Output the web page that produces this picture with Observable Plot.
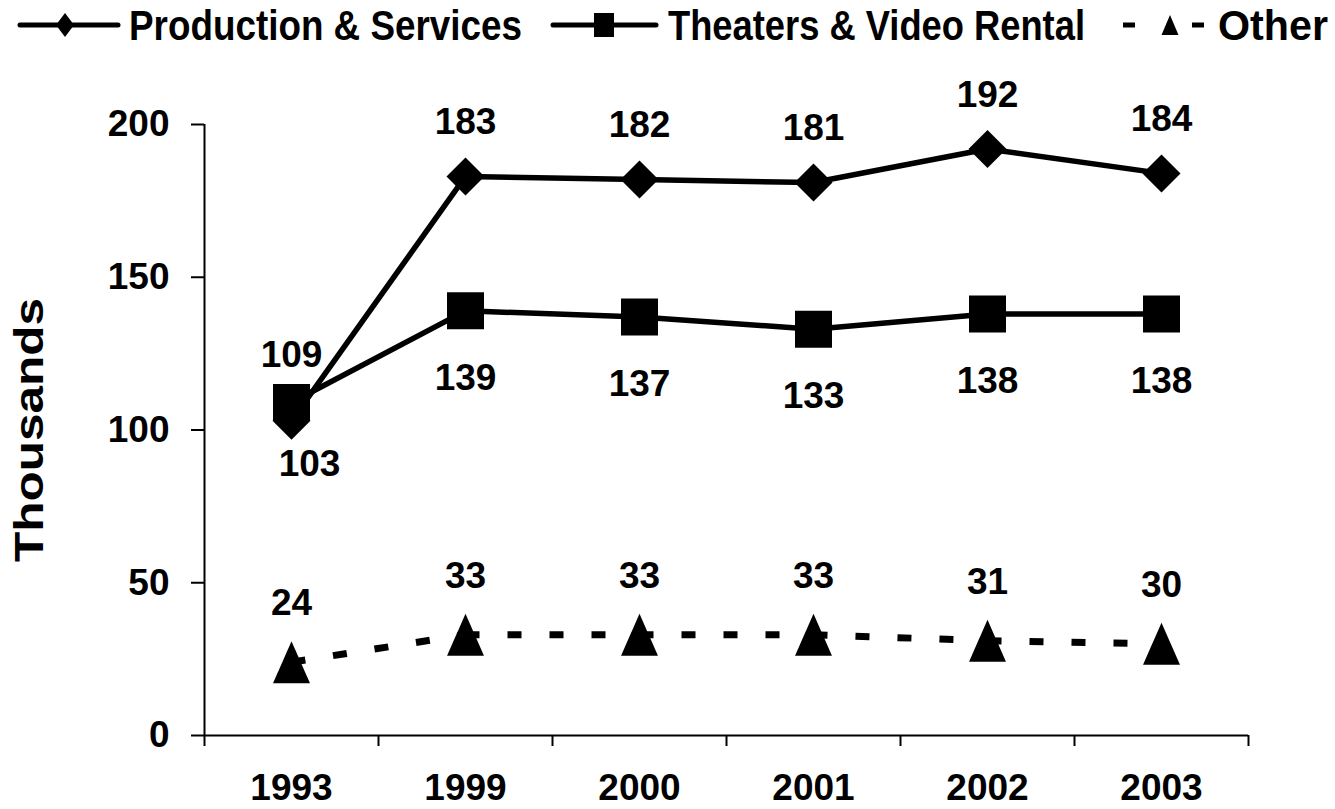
<!DOCTYPE html>
<html>
<head>
<meta charset="utf-8">
<script src="https://cdn.jsdelivr.net/npm/d3@7"></script>
<script src="https://cdn.jsdelivr.net/npm/@observablehq/plot@0.6"></script>
<style>
  html, body { margin: 0; padding: 0; background: #fff; }
  #legend, #chart { display: block; }
  text { font-family: "Liberation Sans", Arial, sans-serif; }
</style>
</head>
<body>
<svg id="legend" width="1335" height="50"></svg>
<div id="chart"></div>
<script>
// ---- Data ----
const years = ["1993", "1999", "2000", "2001", "2002", "2003"];
const production = [103, 183, 182, 181, 192, 184];
const theaters = [109, 139, 137, 133, 138, 138];
const other = [24, 33, 33, 33, 31, 30];
const seriesNames = ["Production & Services", "Theaters & Video Rental", "Other"];
const yTicks = [0, 50, 100, 150, 200];
const yLabel = "Thousands";

// ---- Custom symbols ----
const diamondSym = {draw(ctx, size) { const r = Math.sqrt(size / Math.PI); ctx.moveTo(0, -r); ctx.lineTo(r, 0); ctx.lineTo(0, r); ctx.lineTo(-r, 0); ctx.closePath(); }};
const squareSym = {draw(ctx, size) { const r = Math.sqrt(size / Math.PI); ctx.rect(-r, -r, 2 * r, 2 * r); }};
const triangleSym = {draw(ctx, size) { const r = Math.sqrt(size / Math.PI); ctx.moveTo(0, -r); ctx.lineTo(0.88 * r, r); ctx.lineTo(-0.88 * r, r); ctx.closePath(); }};

// ---- Legend ----
(function () {
  const svg = d3.select("#legend");
  const font = "Liberation Sans, Arial, sans-serif";
  const baseline = 40;
  const cy = 25;
  const fs = 43;
  // Production
  svg.append("line").attr("x1", 20).attr("x2", 118).attr("y1", cy).attr("y2", cy).attr("stroke", "#000").attr("stroke-width", 5).attr("stroke-linecap", "round");
  svg.append("path").attr("d", `M65,${cy - 12}L74,${cy}L65,${cy + 12}L56,${cy}Z`).attr("fill", "#000");
  svg.append("text").attr("x", 129).attr("y", baseline).attr("textLength", 393).attr("lengthAdjust", "spacingAndGlyphs")
    .attr("font-family", font).attr("font-weight", "bold").attr("font-size", fs).text(seriesNames[0]);
  // Theaters
  svg.append("line").attr("x1", 553).attr("x2", 656).attr("y1", cy).attr("y2", cy).attr("stroke", "#000").attr("stroke-width", 5).attr("stroke-linecap", "round");
  svg.append("rect").attr("x", 594).attr("y", cy - 12).attr("width", 20).attr("height", 24).attr("fill", "#000");
  svg.append("text").attr("x", 668).attr("y", baseline).attr("textLength", 417).attr("lengthAdjust", "spacingAndGlyphs")
    .attr("font-family", font).attr("font-weight", "bold").attr("font-size", fs).text(seriesNames[1]);
  // Other
  svg.append("line").attr("x1", 1123).attr("x2", 1135).attr("y1", cy).attr("y2", cy).attr("stroke", "#000").attr("stroke-width", 5);
  svg.append("line").attr("x1", 1192).attr("x2", 1204).attr("y1", cy).attr("y2", cy).attr("stroke", "#000").attr("stroke-width", 5);
  svg.append("path").attr("d", `M1170,${cy - 10}L1178.5,${cy + 10}L1161.5,${cy + 10}Z`).attr("fill", "#000");
  svg.append("text").attr("x", 1218).attr("y", baseline).attr("textLength", 110).attr("lengthAdjust", "spacingAndGlyphs")
    .attr("font-family", font).attr("font-weight", "bold").attr("font-size", fs).text(seriesNames[2]);
})();

// ---- Chart ----
const toRows = (vals) => vals.map((v, i) => ({i, year: years[i], value: v}));
const prodRows = toRows(production);
const theaterRows = toRows(theaters);
const otherRows = toRows(other);
const otherSegments = d3.pairs(otherRows);

const fontFamily = "Liberation Sans, Arial, sans-serif";
const labelFont = {fontSize: 37, fontWeight: "bold", fontFamily, fill: "#000"};
const bounds = d3.range(-0.5, years.length, 1);

const chart = Plot.plot({
  width: 1335,
  height: 759,
  marginLeft: 204,
  marginRight: 87,
  marginTop: 74,
  marginBottom: 74,
  style: {fontFamily, fontSize: "37px", fontWeight: "bold", color: "#000", background: "#fff"},
  x: {type: "linear", domain: [-0.5, years.length - 0.5]},
  y: {domain: [0, 200]},
  marks: [
    // axes
    Plot.axisY({ticks: yTicks, tickSize: 13, tickPadding: 22, strokeWidth: 2, label: null, fontSize: 37, fontWeight: "bold"}),
    Plot.axisX({ticks: bounds, tickSize: 11, tickFormat: () => "", strokeWidth: 2, label: null}),
    Plot.axisX({ticks: d3.range(years.length), tickSize: 0, tickPadding: 38, tickFormat: (i) => years[i], label: null, fontSize: 37, fontWeight: "bold"}),
    Plot.ruleX([-0.5], {y1: 0, y2: 200, stroke: "#000", strokeWidth: 2}),
    Plot.ruleY([0], {x1: -0.5, x2: years.length - 0.5, stroke: "#000", strokeWidth: 2}),
    Plot.text([yLabel], {x: () => -0.5, y: () => 100, dx: -174, rotate: -90, text: (d) => d, fontSize: 40, fontWeight: "bold", fontFamily, fill: "#000", className: "ylab"}),
    // Production & Services
    Plot.line(prodRows, {x: "i", y: "value", stroke: "#000", strokeWidth: 5.5}),
    Plot.dot(prodRows, {x: "i", y: "value", symbol: diamondSym, r: 19, fill: "#000", stroke: "none"}),
    // Theaters & Video Rental
    Plot.line(theaterRows, {x: "i", y: "value", stroke: "#000", strokeWidth: 5.5}),
    Plot.dot(theaterRows, {x: "i", y: "value", symbol: squareSym, r: 18.5, fill: "#000", stroke: "none"}),
    // Other (dashed, pattern restarts per segment)
    Plot.link(otherSegments, {x1: (d) => d[0].i, y1: (d) => d[0].value, x2: (d) => d[1].i, y2: (d) => d[1].value,
      stroke: "#000", strokeWidth: 7, strokeDasharray: "14,28", strokeLinecap: "butt"}),
    Plot.dot(otherRows, {x: "i", y: "value", symbol: triangleSym, r: 21, fill: "#000", stroke: "none"}),
    // Data labels
    Plot.text(prodRows, {filter: (d) => d.i > 0, x: "i", y: "value", text: (d) => String(d.value), dy: -54, ...labelFont}),
    Plot.text(prodRows, {filter: (d) => d.i === 0, x: "i", y: "value", text: (d) => String(d.value), dy: 43, dx: 18, ...labelFont}),
    Plot.text(theaterRows, {filter: (d) => d.i > 0, x: "i", y: "value", text: (d) => String(d.value), dy: 67, ...labelFont}),
    Plot.text(theaterRows, {filter: (d) => d.i === 0, x: "i", y: "value", text: (d) => String(d.value), dy: -47, ...labelFont}),
    Plot.text(otherRows, {x: "i", y: "value", text: (d) => String(d.value), dy: -59, ...labelFont})
  ]
});
// Stretch the rotated axis title along its length as in the reference
d3.select(chart).selectAll("text").filter(function () { return this.textContent === yLabel; })
  .attr("textLength", 264).attr("lengthAdjust", "spacingAndGlyphs");
document.getElementById("chart").appendChild(chart);
</script>
</body>
</html>
